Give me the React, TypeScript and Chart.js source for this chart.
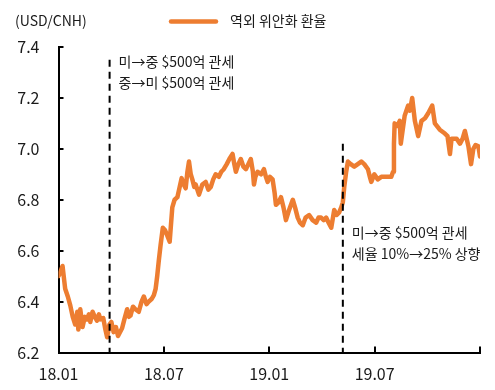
import React, { useEffect, useRef } from 'react';
import { Chart, registerables } from 'chart.js';

Chart.register(...registerables);

// ---------- data ----------
const seriesName = '역외 위안화 환율';
const unitLabel = '(USD/CNH)';
const xTickLabels = ['18.01', '18.07', '19.01', '19.07', ''];

// months elapsed since 2018-01
const months = [0.00, 0.13, 0.23, 0.33, 0.38, 0.53, 0.67, 0.81, 0.95, 1.07, 1.13, 1.24, 1.37, 1.50, 1.62, 1.73, 1.81, 1.94, 2.07, 2.19, 2.30, 2.38, 2.55, 2.67, 2.77, 2.90, 3.01, 3.14, 3.27, 3.39, 3.62, 3.75, 3.91, 4.01, 4.10, 4.24, 4.38, 4.57, 4.73, 4.86, 5.01, 5.14, 5.30, 5.43, 5.53, 5.62, 5.71, 5.81, 5.94, 6.07, 6.19, 6.33, 6.48, 6.61, 6.77, 6.90, 7.01, 7.13, 7.24, 7.34, 7.43, 7.53, 7.62, 7.73, 7.81, 8.00, 8.19, 8.38, 8.53, 8.67, 8.81, 8.95, 9.13, 9.27, 9.41, 9.58, 9.73, 9.91, 10.01, 10.10, 10.24, 10.38, 10.53, 10.67, 10.81, 10.95, 11.07, 11.13, 11.21, 11.34, 11.53, 11.70, 11.81, 11.91, 12.04, 12.19, 12.30, 12.38, 12.53, 12.67, 12.81, 12.95, 13.13, 13.34, 13.47, 13.62, 13.75, 13.91, 14.07, 14.27, 14.47, 14.67, 14.81, 14.95, 15.10, 15.24, 15.38, 15.53, 15.70, 15.84, 15.98, 16.10, 16.19, 16.27, 16.38, 16.48, 16.64, 16.84, 17.04, 17.24, 17.41, 17.62, 17.73, 17.81, 17.98, 18.18, 18.38, 18.61, 18.84, 18.95, 19.05, 19.10, 19.14, 19.30, 19.43, 19.49, 19.71, 19.91, 20.01, 20.14, 20.29, 20.48, 20.67, 20.87, 21.05, 21.28, 21.43, 21.71, 22.00, 22.15, 22.29, 22.38, 22.67, 22.86, 23.01, 23.14, 23.34, 23.49, 23.62, 23.75, 23.91, 24.00];

const cnh = [6.50, 6.52, 6.54, 6.48, 6.45, 6.42, 6.385, 6.34, 6.31, 6.36, 6.29, 6.37, 6.30, 6.34, 6.33, 6.35, 6.32, 6.36, 6.34, 6.325, 6.35, 6.33, 6.335, 6.29, 6.26, 6.31, 6.32, 6.28, 6.30, 6.265, 6.295, 6.33, 6.37, 6.34, 6.345, 6.38, 6.37, 6.36, 6.40, 6.42, 6.39, 6.40, 6.41, 6.425, 6.45, 6.50, 6.56, 6.62, 6.69, 6.68, 6.66, 6.635, 6.77, 6.80, 6.81, 6.85, 6.885, 6.86, 6.845, 6.91, 6.95, 6.90, 6.88, 6.85, 6.86, 6.82, 6.86, 6.87, 6.84, 6.85, 6.88, 6.90, 6.89, 6.91, 6.92, 6.94, 6.96, 6.98, 6.94, 6.91, 6.94, 6.96, 6.93, 6.92, 6.94, 6.96, 6.91, 6.86, 6.89, 6.91, 6.90, 6.92, 6.89, 6.87, 6.89, 6.88, 6.83, 6.78, 6.79, 6.81, 6.77, 6.72, 6.76, 6.80, 6.77, 6.73, 6.71, 6.70, 6.73, 6.74, 6.72, 6.71, 6.73, 6.73, 6.72, 6.73, 6.71, 6.69, 6.76, 6.74, 6.75, 6.77, 6.79, 6.85, 6.91, 6.95, 6.94, 6.93, 6.94, 6.95, 6.94, 6.92, 6.89, 6.87, 6.90, 6.88, 6.89, 6.89, 6.89, 6.89, 6.91, 7.02, 7.10, 7.09, 7.11, 7.02, 7.13, 7.17, 7.15, 7.20, 7.11, 7.05, 7.11, 7.12, 7.14, 7.17, 7.10, 7.075, 7.06, 7.05, 6.98, 7.04, 7.04, 7.02, 7.04, 7.07, 7.01, 6.94, 7.00, 7.015, 7.01, 6.97];

const eventMonths = [2.91, 16.19];
const eventTops = [7.35, 7.02];
const eventNotes = [
  ['미→중 $500억 관세', '중→미 $500억 관세'],
  ['미→중 $500억 관세', '세율 10%→25% 상향'],
];

// ---------- style ----------
const FONT = '"Noto Sans CJK KR", "Noto Sans", sans-serif';
const ORANGE = '#ED7D31';
const INK = '#1a1a1a';

const decorPlugin = {
  id: 'decor',
  afterDatasetsDraw(chart: any) {
    const { ctx, chartArea, scales } = chart;
    const xs = scales.x;
    const ys = scales.y;
    ctx.save();

    // inward ticks
    ctx.strokeStyle = '#000';
    ctx.lineWidth = 2;
    ctx.beginPath();
    for (let v = 6.2; v <= 7.4001; v += 0.2) {
      const y = Math.round(ys.getPixelForValue(v));
      ctx.moveTo(chartArea.left, y);
      ctx.lineTo(chartArea.left + 5, y);
    }
    for (let m = 6; m <= 24; m += 6) {
      const x = Math.round(xs.getPixelForValue(m));
      ctx.moveTo(x, chartArea.bottom);
      ctx.lineTo(x, chartArea.bottom - 6);
    }
    ctx.stroke();

    // event dashed lines
    ctx.setLineDash([7, 5]);
    ctx.lineWidth = 2;
    ctx.strokeStyle = '#000';
    eventMonths.forEach((m, i) => {
      const x = xs.getPixelForValue(m);
      ctx.beginPath();
      ctx.moveTo(x, ys.getPixelForValue(eventTops[i]));
      ctx.lineTo(x, chartArea.bottom);
      ctx.stroke();
    });
    ctx.setLineDash([]);

    // notes
    ctx.fillStyle = INK;
    ctx.font = `14px ${FONT}`;
    ctx.textBaseline = 'middle';
    ctx.textAlign = 'left';
    const noteY = [[7.344, 7.259], [6.669, 6.587]];
    eventNotes.forEach((lines, i) => {
      const x = xs.getPixelForValue(eventMonths[i]) + 9;
      lines.forEach((t, j) => ctx.fillText(t, x, ys.getPixelForValue(noteY[i][j])));
    });

    // unit label and legend
    ctx.fillText(unitLabel, 15, 21);
    ctx.strokeStyle = ORANGE;
    ctx.lineWidth = 4.5;
    ctx.lineCap = 'round';
    ctx.beginPath();
    ctx.moveTo(171, 21.5);
    ctx.lineTo(216, 21.5);
    ctx.stroke();
    ctx.fillText(seriesName, 230, 21);
    ctx.restore();
  },
};

export default function App() {
  const ref = useRef<HTMLCanvasElement | null>(null);
  useEffect(() => {
    document.body.style.margin = '0';
    const canvas = ref.current!;
    const chart = new Chart(canvas, {
      type: 'line',
      data: {
        datasets: [
          {
            label: seriesName,
            data: months.map((m, i) => ({ x: m, y: cnh[i] })),
            borderColor: ORANGE,
            borderWidth: 4.5,
            pointRadius: 0,
            tension: 0,
            borderJoinStyle: 'round',
            borderCapStyle: 'round',
          } as any,
        ],
      },
      options: {
        responsive: false,
        animation: false,
        layout: { padding: { top: 47, right: 15, left: 0, bottom: 0 } },
        plugins: { legend: { display: false }, tooltip: { enabled: false } },
        scales: {
          x: {
            type: 'linear',
            min: 0,
            max: 24,
            afterFit: (s: any) => { s.height = 37.5; },
            afterBuildTicks: (s: any) => {
              s.ticks = [0, 6, 12, 18, 24].map((v) => ({ value: v }));
            },
            ticks: {
              callback: (v: any) => xTickLabels[Math.round(Number(v) / 6)] ?? '',
              font: { family: FONT, size: 16 },
              color: INK,
              padding: 12,
              maxRotation: 0,
              autoSkip: false,
            },
            grid: { display: false, drawTicks: false },
            border: { display: true, color: '#000', width: 2 },
          },
          y: {
            type: 'linear',
            min: 6.2,
            max: 7.4,
            afterFit: (s: any) => { s.width = 58.5; },
            ticks: {
              stepSize: 0.2,
              callback: (v: any) => Number(v).toFixed(1),
              font: { family: FONT, size: 16 },
              color: INK,
              padding: 19,
            },
            grid: { display: false, drawTicks: false },
            border: { display: true, color: '#000', width: 2 },
          },
        },
      },
      plugins: [decorPlugin],
    });
    return () => chart.destroy();
  }, []);
  return (
    <div style={{ width: 495, height: 390, background: '#fff' }}>
      <canvas ref={ref} width={495} height={390} />
    </div>
  );
}
